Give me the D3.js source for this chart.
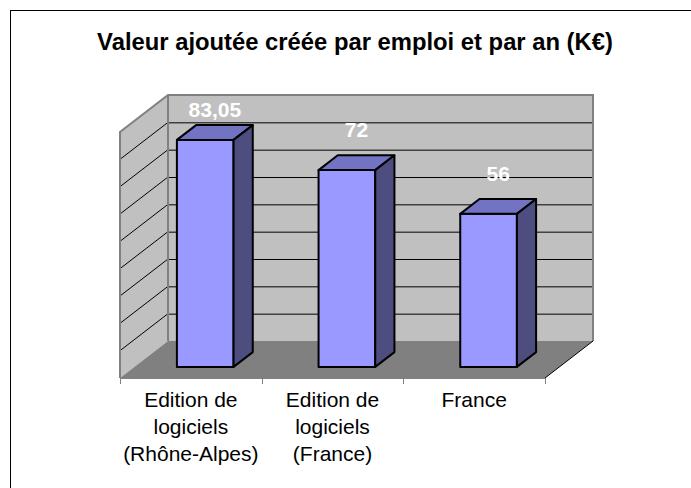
<!DOCTYPE html>
<html>
<head>
<meta charset="utf-8">
<script src="https://cdn.jsdelivr.net/npm/d3@7"></script>
<style>
  body { margin: 0; background: #fff; }
  text { font-family: "Liberation Sans", Arial, sans-serif; }
</style>
</head>
<body>
<script>
// données du graphique
var categories = ["Edition de\nlogiciels\n(Rhône-Alpes)", "Edition de\nlogiciels\n(France)", "France"];
var values = [83.05, 72, 56];
var valueLabels = ["83,05", "72", "56"];
var yTicks = [0, 10, 20, 30, 40, 50, 60, 70, 80, 90];
var title = "Valeur ajoutée créée par emploi et par an (K€)";

var width = 691, height = 488;
// plan avant du sol et profondeur de la perspective
var plot = {left: 120, right: 545, bottom: 378, top: 132},
  depth = {dx: 48, dy: -37};

var svg = d3.select("body")
  .append("svg")
  .attr("width", width)
  .attr("height", height);

// cadre du graphique
svg.append("rect")
  .attr("x", 10.5).attr("y", 10.5)
  .attr("width", 700).attr("height", 500)
  .attr("fill", "#fff")
  .attr("stroke", "#000")
  .attr("stroke-width", 1);

svg.append("text")
  .attr("x", 355)
  .attr("y", 50)
  .attr("text-anchor", "middle")
  .style("font-weight", "bold")
  .style("font-size", "23.8px")
  .text(title);

var x = d3.scaleBand()
  .domain(categories)
  .range([plot.left, plot.right])
  .paddingInner(0.6)
  .paddingOuter(0.3);

var y = d3.scaleLinear()
  .domain([0, 90])
  .range([plot.bottom, plot.top]);

// projection : z de 0 (avant) à 1 (fond)
function p(px, py, z) {
  return [px + z * depth.dx, py + z * depth.dy];
}
function poly(pts) {
  return "M" + pts.map(function (d) { return d.join(","); }).join("L") + "Z";
}

var x0 = plot.left, x1 = plot.right, yb = y(0), yt = y(90);

// mur du fond
svg.append("path")
  .attr("d", poly([p(x0, yb, 1), p(x1, yb, 1), p(x1, yt, 1), p(x0, yt, 1)]))
  .attr("fill", "#c0c0c0");
// mur de gauche
svg.append("path")
  .attr("d", poly([p(x0, yb, 0), p(x0, yb, 1), p(x0, yt, 1), p(x0, yt, 0)]))
  .attr("fill", "#c0c0c0");

// quadrillage
var grid = yTicks.slice(1, -1);
svg.selectAll("line.gridback")
  .data(grid)
  .enter().append("line")
  .attr("class", "gridback")
  .attr("x1", p(x0, 0, 1)[0]).attr("x2", p(x1, 0, 1)[0])
  .attr("y1", function (d) { return p(0, y(d), 1)[1] + 0.5; })
  .attr("y2", function (d) { return p(0, y(d), 1)[1] + 0.5; })
  .attr("stroke", "#000").attr("stroke-width", 1);
svg.selectAll("line.gridside")
  .data(grid)
  .enter().append("line")
  .attr("class", "gridside")
  .attr("x1", p(x0, y(0), 0)[0]).attr("x2", p(x0, 0, 1)[0])
  .attr("y1", function (d) { return p(0, y(d), 0)[1]; })
  .attr("y2", function (d) { return p(0, y(d), 1)[1]; })
  .attr("stroke", "#000").attr("stroke-width", 1);

// bordures des murs
svg.append("path")
  .attr("d", "M" + [p(x0, yb, 0), p(x0, yt, 0), p(x0, yt, 1), p(x1, yt, 1), p(x1, yb, 1)].map(function (d) { return d.join(","); }).join("L")
    + "M" + p(x0, yt, 1).join(",") + "L" + p(x0, yb, 1).join(","))
  .attr("fill", "none")
  .attr("stroke", "#808080")
  .attr("stroke-width", 2);

// sol
svg.append("path")
  .attr("d", poly([p(x0, yb, 0), p(x1, yb, 0), p(x1, yb, 1), p(x0, yb, 1)]))
  .attr("fill", "#808080");
svg.append("line")
  .attr("x1", p(x1, yb, 0)[0]).attr("y1", yb)
  .attr("x2", p(x1, yb, 1)[0]).attr("y2", p(x1, yb, 1)[1])
  .attr("stroke", "#000").attr("stroke-width", 1);

// axe des catégories (plan avant)
svg.append("line")
  .attr("x1", x0).attr("x2", x1)
  .attr("y1", yb + 0.5).attr("y2", yb + 0.5)
  .attr("stroke", "#808080").attr("stroke-width", 1);
var tickX = categories.map(function (c) { return x(c) - x.step() * x.paddingInner() / 2; }).concat([x1]);
svg.selectAll("line.tick")
  .data(tickX)
  .enter().append("line")
  .attr("class", "tick")
  .attr("x1", function (d) { return Math.round(d) + 0.5; })
  .attr("x2", function (d) { return Math.round(d) + 0.5; })
  .attr("y1", yb).attr("y2", yb + 6)
  .attr("stroke", "#808080");

// barres 3D
var zf = 0.3, zb = 0.7;
var bars = svg.selectAll("g.bar")
  .data(values)
  .enter().append("g")
  .attr("class", "bar");

bars.each(function (v, i) {
  var g = d3.select(this);
  var bx0 = x(categories[i]), bx1 = bx0 + x.bandwidth();
  var top = y(v);
  // face avant
  g.append("path")
    .attr("d", poly([p(bx0, yb, zf), p(bx1, yb, zf), p(bx1, top, zf), p(bx0, top, zf)]))
    .attr("fill", "#9999ff");
  // dessus
  g.append("path")
    .attr("d", poly([p(bx0, top, zf), p(bx1, top, zf), p(bx1, top, zb), p(bx0, top, zb)]))
    .attr("fill", "#7373c4");
  // côté
  g.append("path")
    .attr("d", poly([p(bx1, yb, zf), p(bx1, yb, zb), p(bx1, top, zb), p(bx1, top, zf)]))
    .attr("fill", "#4d4d80");
  g.selectAll("path")
    .attr("stroke", "#000")
    .attr("stroke-width", 2)
    .attr("stroke-linejoin", "round");
});

// étiquettes de valeur
svg.selectAll("text.val")
  .data(values)
  .enter().append("text")
  .attr("class", "val")
  .attr("x", function (d, i) { return p(x(categories[i]) + x.bandwidth() / 2, 0, 0.5)[0]; })
  .attr("y", function (d) { return Math.max(p(0, y(d), zb)[1] - 18, p(0, yt, 1)[1] + 22); })
  .attr("text-anchor", "middle")
  .style("font-size", "21px")
  .style("font-weight", "bold")
  .attr("fill", "#fff")
  .text(function (d, i) { return valueLabels[i]; });

// libellés des catégories
svg.selectAll("text.cat")
  .data(categories)
  .enter().append("text")
  .attr("class", "cat")
  .attr("x", function (d) { return x(d) + x.bandwidth() / 2; })
  .attr("y", 407)
  .attr("text-anchor", "middle")
  .style("font-size", "21px")
  .attr("fill", "#000")
  .each(function (d) {
    var t = d3.select(this);
    d.split("\n").forEach(function (line, k) {
      t.append("tspan")
        .attr("x", t.attr("x"))
        .attr("dy", k === 0 ? 0 : 27)
        .text(line);
    });
  });
</script>
</body>
</html>
